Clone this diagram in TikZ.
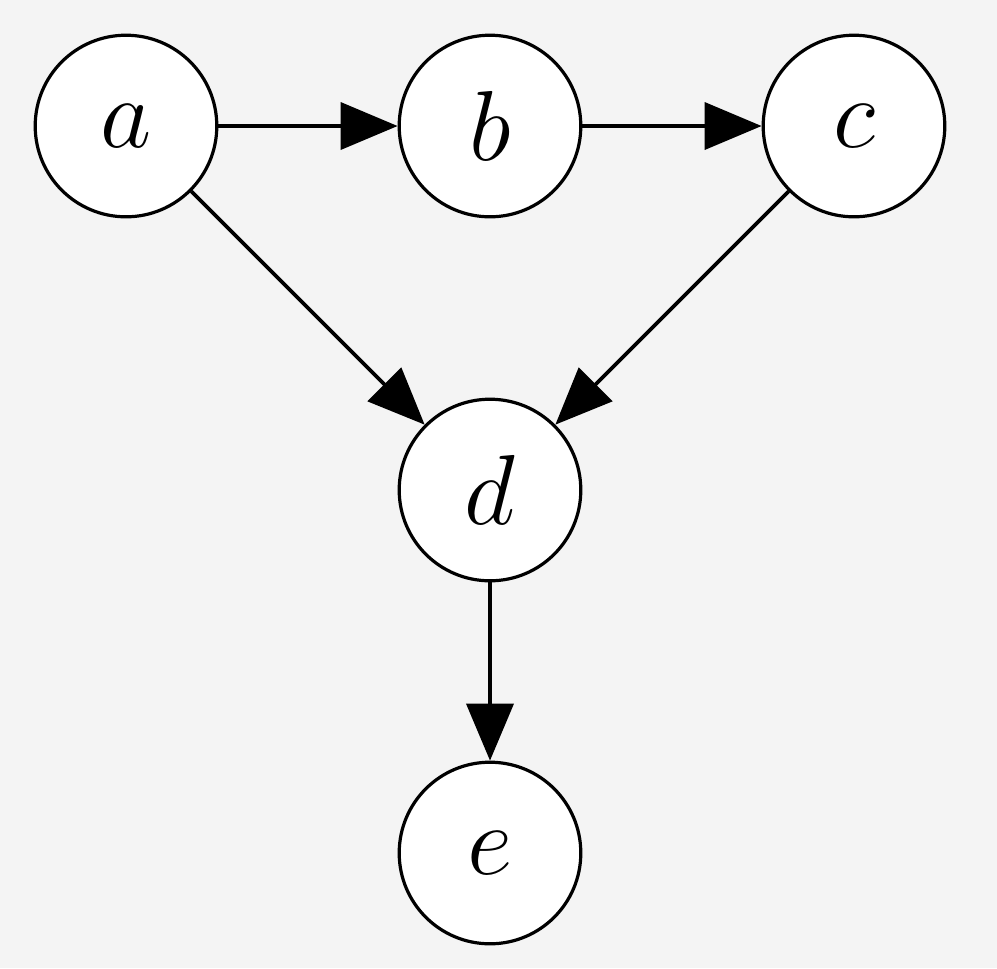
\documentclass[tikz,border=0pt]{standalone}
\usetikzlibrary{arrows.meta}
\definecolor{bg}{HTML}{F4F4F4}
\begin{document}
\begin{tikzpicture}[x=0.25pt,y=-0.25pt,
  vert/.style={circle,draw=black,fill=white,line width=0.8pt,minimum size=45.4pt,inner sep=0pt,font=\fontsize{23.5}{28}\selectfont},
  edge/.style={line width=0.95pt,-{Triangle[length=14.25pt,width=11.75pt]}}]
\fill[bg] (0,0) rectangle (997,968);
\useasboundingbox (0,0) rectangle (997,968);
\node[vert] (a) at (126,126) {$a$};
\node[vert] (b) at (490,126) {$b$};
\node[vert] (c) at (854,126) {$c$};
\node[vert] (d) at (490,490) {$d$};
\node[vert] (e) at (490,853) {$e$};
\draw[edge] (a) -- (b);
\draw[edge] (b) -- (c);
\draw[edge] (a) -- (d);
\draw[edge] (c) -- (d);
\draw[edge] (d) -- (e);
\end{tikzpicture}
\end{document}
